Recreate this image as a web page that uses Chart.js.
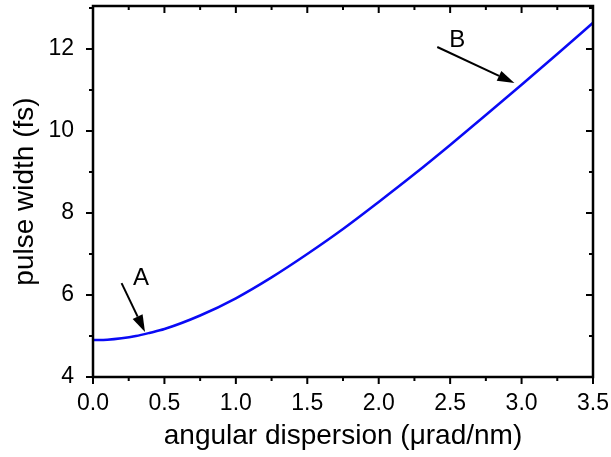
<!DOCTYPE html>
<html>
<head>
<meta charset="utf-8">
<script src="https://cdn.jsdelivr.net/npm/chart.js@4.4.1/dist/chart.umd.min.js"></script>
<style>
  html, body { margin: 0; padding: 0; background: #fff; }
  #wrap { width: 611px; height: 457px; }
</style>
</head>
<body>
<div id="wrap"><canvas id="myChart" width="611" height="457"></canvas></div>
<script>
// values
const dispersion = [0, 0.1, 0.2, 0.3, 0.4, 0.5, 0.75, 1.0, 1.25, 1.5, 1.75, 2.0, 2.25, 2.5, 2.75, 3.0, 3.25, 3.5];
const pulseWidth = [4.90, 4.91, 4.945, 5.00, 5.08, 5.17, 5.50, 5.92, 6.43, 7.00, 7.61, 8.27, 8.95, 9.66, 10.39, 11.13, 11.88, 12.64];

const xTicks = [0, 0.5, 1.0, 1.5, 2.0, 2.5, 3.0, 3.5];
const yTicks = [4, 6, 8, 10, 12];

// arrows: [label, label x, label y, tail x, tail y, tip x, tip y] in data units
const arrows = [
  ["A", 0.336, 6.41, 0.20, 6.29, 0.364, 5.10],
  ["B", 2.55, 12.22, 2.41, 12.05, 2.95, 11.17]
];

const points = dispersion.map((d, i) => ({ x: d, y: pulseWidth[i] }));

// frame, ticks and arrows
const framePlugin = {
  id: "frame",
  afterDraw(chart) {
    const ctx = chart.ctx;
    const a = chart.chartArea;
    const xs = chart.scales.x, ys = chart.scales.y;
    ctx.save();
    ctx.strokeStyle = "#000";
    ctx.lineWidth = 2.5;
    ctx.strokeRect(a.left, a.top, a.right - a.left, a.bottom - a.top);

    ctx.lineWidth = 2;
    ctx.beginPath();
    for (let v = 0; v <= 3.5001; v += 0.25) {
      const px = xs.getPixelForValue(v);
      const major = Math.abs(v * 2 - Math.round(v * 2)) < 1e-6;
      const len = major ? 7 : 4;
      ctx.moveTo(px, a.bottom); ctx.lineTo(px, a.bottom + len);
      ctx.moveTo(px, a.top); ctx.lineTo(px, a.top + len);
    }
    for (let v = 4; v <= 13; v += 1) {
      const py = ys.getPixelForValue(v);
      const len = v % 2 === 0 ? 7 : 4;
      ctx.moveTo(a.left, py); ctx.lineTo(a.left - len, py);
      ctx.moveTo(a.right, py); ctx.lineTo(a.right - len, py);
    }
    ctx.stroke();

    ctx.fillStyle = "#000";
    ctx.font = "24px 'Liberation Sans', Arial, sans-serif";
    ctx.textAlign = "center";
    ctx.textBaseline = "middle";
    arrows.forEach(r => {
      const lx = xs.getPixelForValue(r[1]), ly = ys.getPixelForValue(r[2]);
      const x0 = xs.getPixelForValue(r[3]), y0 = ys.getPixelForValue(r[4]);
      const x1 = xs.getPixelForValue(r[5]), y1 = ys.getPixelForValue(r[6]);
      ctx.fillText(r[0], lx, ly);
      const ang = Math.atan2(y1 - y0, x1 - x0);
      const hl = 17, hw = 5.5;
      const bx = x1 - hl * Math.cos(ang), by = y1 - hl * Math.sin(ang);
      ctx.lineWidth = 2;
      ctx.beginPath();
      ctx.moveTo(x0, y0); ctx.lineTo(bx, by);
      ctx.stroke();
      ctx.beginPath();
      ctx.moveTo(x1, y1);
      ctx.lineTo(bx + hw * Math.sin(ang), by - hw * Math.cos(ang));
      ctx.lineTo(bx - hw * Math.sin(ang), by + hw * Math.cos(ang));
      ctx.closePath();
      ctx.fill();
    });
    ctx.restore();
  }
};

const config = {
  type: "line",
  data: {
    datasets: [{
      data: points,
      borderColor: "rgb(10, 10, 245)",
      borderWidth: 2.5,
      pointRadius: 0,
      cubicInterpolationMode: "monotone",
      fill: false
    }]
  },
  options: {
    responsive: false,
    animation: false,
    layout: { padding: { top: 6, right: 18, left: 0, bottom: 0 } },
    plugins: { legend: { display: false }, tooltip: { enabled: false } },
    scales: {
      x: {
        type: "linear",
        min: 0,
        max: 3.5,
        grid: { display: false },
        border: { display: false },
        afterBuildTicks: s => { s.ticks = xTicks.map(v => ({ value: v })); },
        afterFit: s => { s.height = 80; s.paddingLeft = 0; s.paddingRight = 0; },
        ticks: {
          color: "#000",
          padding: 5,
          font: { family: "'Liberation Sans', Arial, sans-serif", size: 23 },
          callback: v => v.toFixed(1)
        },
        title: {
          display: true,
          text: "angular dispersion (μrad/nm)",
          color: "#000",
          padding: { top: 0, bottom: 4 },
          font: { family: "'Liberation Sans', Arial, sans-serif", size: 28 }
        }
      },
      y: {
        min: 4,
        max: 13.05,
        grid: { display: false },
        border: { display: false },
        afterBuildTicks: s => { s.ticks = yTicks.map(v => ({ value: v })); },
        afterFit: s => { s.width = 93; s.paddingTop = 0; s.paddingBottom = 0; },
        ticks: {
          color: "#000",
          padding: 11,
          font: { family: "'Liberation Sans', Arial, sans-serif", size: 23 }
        },
        title: {
          display: true,
          text: "pulse width (fs)",
          color: "#000",
          padding: { top: 8, bottom: 0 },
          font: { family: "'Liberation Sans', Arial, sans-serif", size: 28 }
        }
      }
    }
  },
  plugins: [framePlugin]
};

const myChart = new Chart(document.getElementById("myChart"), config);
</script>
</body>
</html>
